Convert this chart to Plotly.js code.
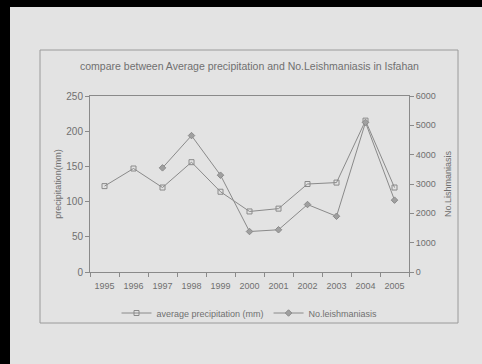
<!DOCTYPE html>
<html>
<head>
<meta charset="utf-8">
<script src="https://cdn.plot.ly/plotly-3.0.1.min.js"></script>
<style>
  html, body { margin: 0; padding: 0; background: #e3e3e3; }
  #chart { width: 482px; height: 364px; position: absolute; left: 0; top: 0; }
  #barTop { position: absolute; left: 0; top: 0; width: 482px; height: 7px; background: #000; }
  #barLeft { position: absolute; left: 0; top: 0; width: 10px; height: 364px; background: #000; }
</style>
</head>
<body>
<div id="chart"></div>
<div id="barTop"></div>
<div id="barLeft"></div>
<script>
const years = ['1995','1996','1997','1998','1999','2000','2001','2002','2003','2004','2005'];
const precipitation = [122, 147, 120, 156, 114, 86, 90, 125, 127, 215, 120];
const leishYears = ['1997','1998','1999','2000','2001','2002','2003','2004','2005'];
const leishmaniasis = [3550, 4650, 3300, 1380, 1440, 2300, 1900, 5100, 2450];

const gray = '#8a8a8a';
const txt = '#707070';
const fam = 'Liberation Sans, Arial, sans-serif';

const traces = [
  {
    x: years, y: precipitation, name: 'average precipitation (mm)',
    type: 'scatter', mode: 'lines+markers',
    line: {color: gray, width: 1},
    marker: {symbol: 'square-open', size: 5, color: gray, line: {color: gray, width: 1}}
  },
  {
    x: leishYears, y: leishmaniasis, name: 'No.leishmaniasis', yaxis: 'y2',
    type: 'scatter', mode: 'lines+markers',
    line: {color: gray, width: 1},
    marker: {symbol: 'diamond', size: 5, color: '#a0a0a0', line: {color: gray, width: 1}}
  }
];

const layout = {
  width: 482, height: 364,
  paper_bgcolor: '#e3e3e3', plot_bgcolor: '#e3e3e3',
  margin: {l: 90, r: 73, t: 96, b: 92},
  font: {family: fam, size: 10, color: txt},
  showlegend: true,
  title: {
    text: 'compare between Average precipitation and No.Leishmaniasis in Isfahan',
    font: {family: fam, size: 10.5, color: txt},
    x: 0.5, xref: 'paper', xanchor: 'center',
    y: 1 - 66/364, yref: 'container', yanchor: 'middle'
  },
  xaxis: {
    type: 'category', categoryorder: 'array', categoryarray: years,
    range: [-0.5, 10.5],
    tickson: 'boundaries', ticks: 'outside', ticklen: 4, tickcolor: gray,
    tickangle: 0, ticklabelstandoff: 5,
    showline: true, linecolor: gray, linewidth: 1, mirror: true,
    showgrid: false, zeroline: false,
    tickfont: {family: fam, size: 9, color: txt}
  },
  yaxis: {
    range: [0, 250], tickvals: [0, 50, 100, 150, 200, 250],
    ticks: 'outside', ticklen: 4, tickcolor: gray,
    showline: true, linecolor: gray, linewidth: 1,
    showgrid: false, zeroline: false,
    tickfont: {family: fam, size: 10, color: txt},
    title: {text: 'precipitation(mm)', standoff: 3,
            font: {family: fam, size: 9, color: txt}}
  },
  yaxis2: {
    overlaying: 'y', side: 'right',
    range: [0, 6000], tickvals: [0, 1000, 2000, 3000, 4000, 5000, 6000],
    ticks: 'outside', ticklen: 4, tickcolor: gray,
    showline: true, linecolor: gray, linewidth: 1,
    showgrid: false, zeroline: false,
    tickfont: {family: fam, size: 9, color: txt},
    title: {text: 'No.Lishmaniasis', standoff: 9,
            font: {family: fam, size: 9, color: txt}}
  },
  legend: {
    orientation: 'h', x: 0.5, xanchor: 'center', y: (272 - 313) / 176, yanchor: 'middle',
    bgcolor: 'rgba(0,0,0,0)',
    font: {family: fam, size: 9, color: txt},
    itemwidth: 30, tracegroupgap: 0
  },
  shapes: [
    {type: 'rect', xref: 'paper', yref: 'paper',
     x0: (40 - 90) / 319, x1: (458 - 90) / 319,
     y0: (272 - 323) / 176, y1: (272 - 50) / 176,
     line: {color: '#9a9a9a', width: 1}, fillcolor: 'rgba(0,0,0,0)', layer: 'below'}
  ]
};

Plotly.newPlot('chart', traces, layout, {displayModeBar: false, staticPlot: true});
</script>
</body>
</html>
